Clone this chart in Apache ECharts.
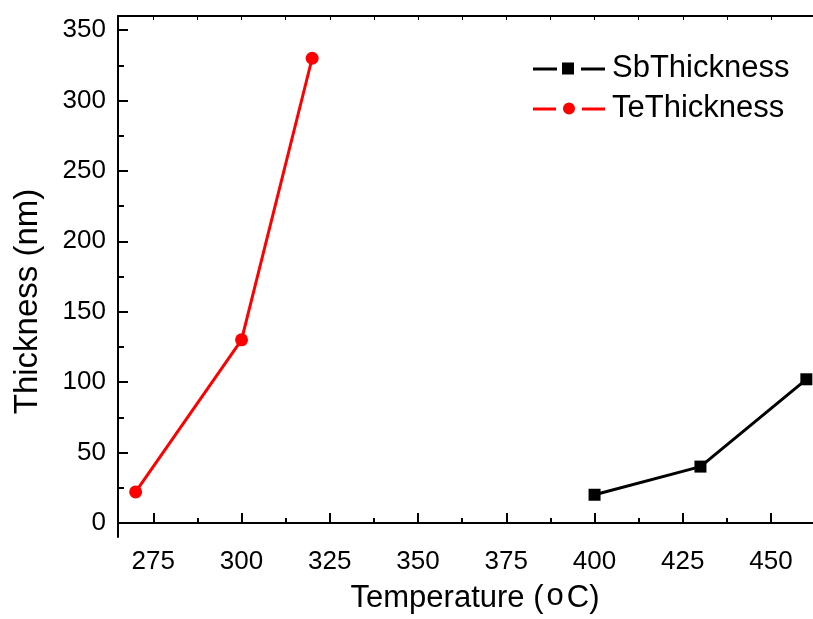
<!DOCTYPE html>
<html>
<head>
<meta charset="utf-8">
<script src="https://cdn.jsdelivr.net/npm/echarts@6/dist/echarts.min.js"></script>
<style>
html,body{margin:0;padding:0;background:#fff;}
#chart{width:813px;height:619px;}
</style>
</head>
<body>
<div id="chart"></div>
<script>
// Data
const sbTemp = [400, 430, 460];
const sbThickness = [20, 40, 102];
const teTemp = [270, 300, 320];
const teThickness = [22, 130, 330];
const xTickLabels = [275, 300, 325, 350, 375, 400, 425, 450];
const xMinorTicks = [287.5, 312.5, 337.5, 362.5, 387.5, 412.5, 437.5, 462.5];
const yTickLabels = [0, 50, 100, 150, 200, 250, 300, 350];
const yMinorTicks = [25, 75, 125, 175, 225, 275, 325];
const seriesNames = ['SbThickness', 'TeThickness'];

const FONT = '"Liberation Sans", Arial, sans-serif';
const chart = echarts.init(document.getElementById('chart'), null, {renderer: 'canvas'});

const axisLine = {show: true, lineStyle: {color: '#000', width: 2}};
const xMin = 265, xMax = 465, yMin = -10, yMax = 360;

const sbIcon = 'path://M0,5h24v3h-24z M29,0h12v12h-12z M48,5h24v3h-24z';
const teIcon = 'path://M0,5h23v3h-23z M42,6a6,6 0 1,1 -12,0a6,6 0 1,1 12,0z M49,5h23v3h-23z';

chart.setOption({
  animation: false,
  backgroundColor: '#fff',
  grid: {left: 118, top: 16, width: 706, bottom: 82, containLabel: false, outerBoundsMode: 'none'},
  legend: {
    orient: 'vertical',
    left: 528, top: 48,
    itemWidth: 72, itemHeight: 12,
    itemGap: 9,
    textStyle: {fontFamily: FONT, fontSize: 31, color: '#000', padding: [0,0,0,2]},
    data: [
      {name: seriesNames[0], icon: sbIcon},
      {name: seriesNames[1], icon: teIcon}
    ]
  },
  xAxis: [
    {
      type: 'value', min: xMin, max: xMax, position: 'bottom',
      name: '{t|Temperature (}{o|o}{t|C)}', nameLocation: 'middle', nameGap: 44,
      nameTextStyle: {
        fontFamily: FONT, fontSize: 31, color: '#000', padding: [0, 0, 0, 8],
        rich: {
          t: {fontFamily: FONT, fontSize: 31, color: '#000'},
          o: {fontFamily: FONT, fontSize: 31, color: '#000', padding: [0, 3, 4, 3]}
        }
      },
      axisLine: axisLine,
      axisTick: {show: true, inside: true, length: 10, customValues: xTickLabels, lineStyle: {color: '#000', width: 2}},
      axisLabel: {show: true, customValues: xTickLabels, margin: 12, fontFamily: FONT, fontSize: 26, color: '#000'},
      splitLine: {show: false}
    },
    {
      type: 'value', min: xMin, max: xMax, position: 'bottom',
      axisLine: {show: false},
      axisTick: {show: true, inside: true, length: 5, customValues: xMinorTicks, lineStyle: {color: '#000', width: 2}},
      axisLabel: {show: false},
      splitLine: {show: false}
    },
    {
      type: 'value', min: xMin, max: xMax, position: 'top',
      axisLine: axisLine,
      axisTick: {show: true, inside: true, length: 4, customValues: xTickLabels.concat(xMinorTicks), lineStyle: {color: '#000', width: 1}},
      axisLabel: {show: false},
      splitLine: {show: false}
    }
  ],
  yAxis: [
    {
      type: 'value', min: yMin, max: yMax, position: 'left',
      name: 'Thickness (nm)', nameLocation: 'middle', nameGap: 74,
      nameTextStyle: {fontFamily: FONT, fontSize: 33, color: '#000', padding: [0, 50, 0, 0]},
      axisLine: axisLine,
      axisTick: {show: true, inside: true, length: 10, customValues: yTickLabels, lineStyle: {color: '#000', width: 2}},
      axisLabel: {show: true, customValues: yTickLabels, margin: 12, fontFamily: FONT, fontSize: 26, color: '#000'},
      splitLine: {show: false}
    },
    {
      type: 'value', min: yMin, max: yMax, position: 'left',
      axisLine: {show: false},
      axisTick: {show: true, inside: true, length: 6, customValues: yMinorTicks, lineStyle: {color: '#000', width: 2}},
      axisLabel: {show: false},
      splitLine: {show: false}
    }
  ],
  series: [
    {
      name: seriesNames[0], type: 'line', xAxisIndex: 0, yAxisIndex: 0,
      data: sbTemp.map((t, i) => [t, sbThickness[i]]),
      symbol: 'rect', symbolSize: 12,
      lineStyle: {color: '#000', width: 3},
      itemStyle: {color: '#000'},
      clip: false
    },
    {
      name: seriesNames[1], type: 'line', xAxisIndex: 0, yAxisIndex: 0,
      data: teTemp.map((t, i) => [t, teThickness[i]]),
      symbol: 'circle', symbolSize: 13,
      lineStyle: {color: '#ff0000', width: 3},
      itemStyle: {color: '#ff0000'},
      clip: false
    }
  ]
});
</script>
</body>
</html>
